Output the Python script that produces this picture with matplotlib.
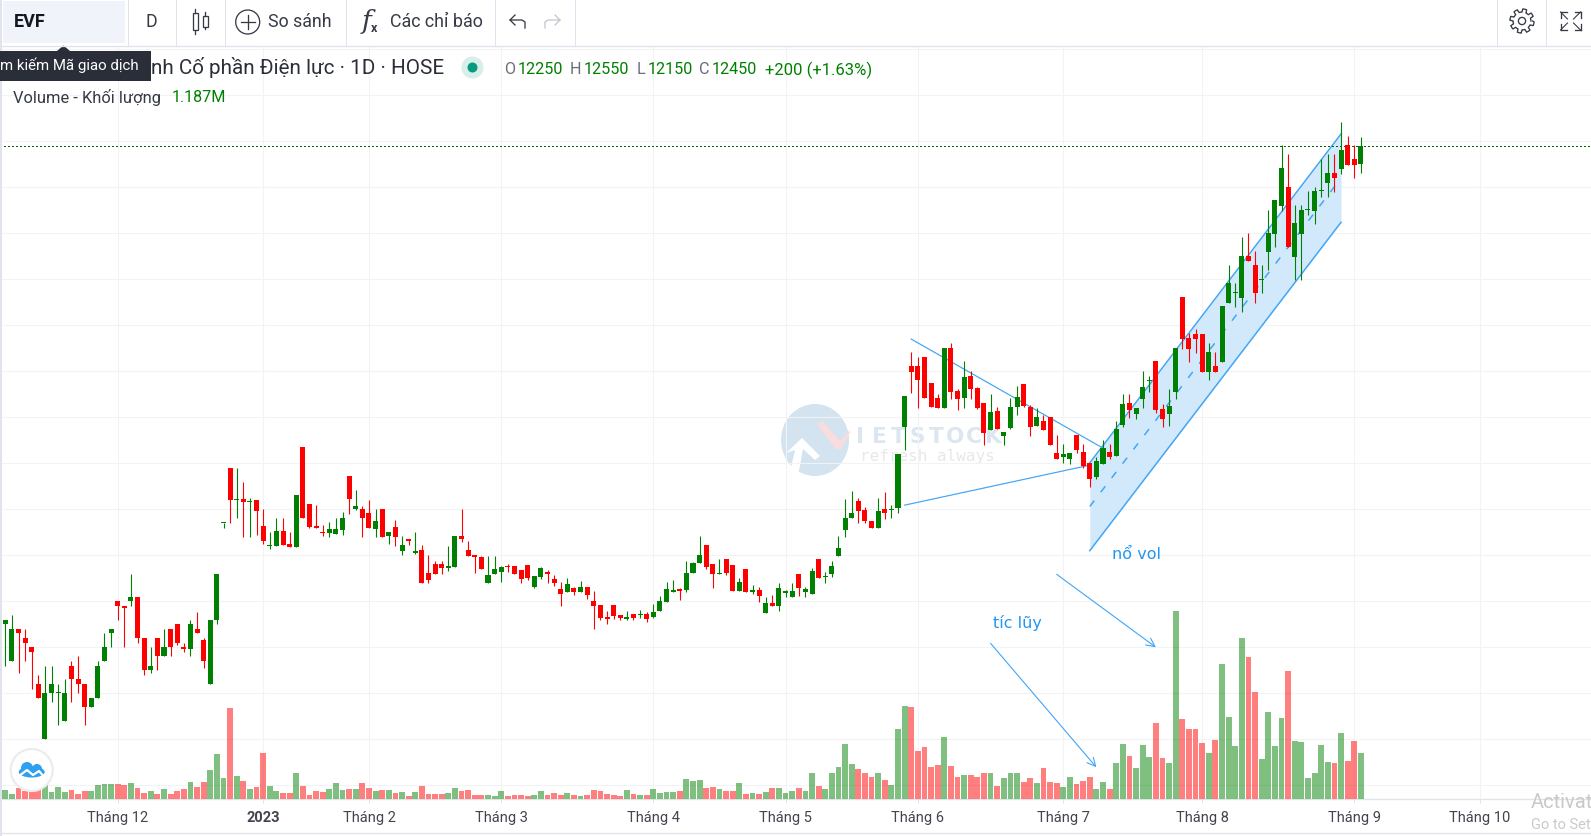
import numpy as np
import matplotlib

matplotlib.use("Agg")
import matplotlib.pyplot as plt
from matplotlib.patches import Circle, Ellipse, Polygon, Rectangle

plt.rcParams["font.family"] = ["Roboto", "DejaVu Sans"]

# Daily prices, bar 0 is mid November 2022
open_p = [
    7250, 6850, 7200, 7100, 7000, 6600, 6000, 6500, 6500, 6200,
    6800, 6650, 6600, 6350, 6450, 6850, 7150, 7500, 7450, 7500,
    7550, 7100, 6750, 7100, 6900, 7200, 7250, 7000, 6980, 7200,
    7080, 6600, 7300, 8350, 8950, 8600, 8610, 8580, 8600, 8320,
    8100, 8100, 8260, 8120, 8090, 9180, 8560, 8320, 8250, 8240,
    8230, 8280, 8860, 8500, 8500, 8460, 8290, 8500, 8210, 8310,
    8050, 8180, 8030, 8060, 7810, 7900, 7910, 7860, 7870, 8210,
    8060, 8000, 7980, 7700, 7800, 7820, 7885, 7885, 7840, 7895,
    7655, 7765, 7820, 7745, 7635, 7600, 7640, 7600, 7655, 7505,
    7460, 7330, 7460, 7350, 7310, 7365, 7355, 7365, 7330, 7395,
    7495, 7600, 7635, 7625, 7810, 7915, 8110, 7905, 7800, 7960,
    7895, 7610, 7850, 7600, 7625, 7375, 7480, 7450, 7590, 7545,
    7800, 7600, 7580, 7960, 7760, 7800, 7990, 8275, 8405, 8590,
    8495, 8375, 8300, 8505, 8495, 8515, 9395, 10060, 10060, 10155,
    9875, 9710, 9600, 10255, 9785, 9710, 9950, 9820, 9655, 9360,
    9570, 9295, 9385, 9610, 9860, 9610, 9405, 9460, 9505, 9110,
    9070, 9045, 9310, 9125, 9005, 8850, 8990, 9125, 9080, 9415,
    9655, 9535, 9700, 9890, 10110, 9590, 9535, 9775, 10810, 10360,
    10410, 10410, 9995, 10060, 10100, 10745, 10850, 10800, 11255, 11155,
    10995, 11295, 11495, 11800, 12005, 11245, 11495, 11750, 11745, 11955,
    12045, 12155, 12200, 12460, 12310, 12250,
]
high_p = [
    7300, 7350, 7200, 7200, 7000, 6700, 6800, 6800, 6600, 6650,
    6850, 6900, 6600, 6450, 6850, 7150, 7200, 7500, 7450, 7800,
    7550, 7100, 7000, 7100, 7200, 7200, 7250, 7050, 7300, 7380,
    7100, 7300, 7800, 8350, 8950, 8950, 8800, 8620, 8600, 8500,
    8250, 8400, 8400, 8250, 8650, 9180, 8560, 8550, 8330, 8360,
    8400, 8470, 8860, 8710, 8540, 8600, 8500, 8500, 8250, 8380,
    8210, 8180, 8250, 8110, 8000, 7940, 7940, 8100, 8210, 8500,
    8155, 8000, 7990, 7990, 7990, 7880, 7905, 7885, 7840, 7895,
    7775, 7875, 7840, 7785, 7710, 7755, 7655, 7720, 7655, 7610,
    7460, 7395, 7460, 7350, 7395, 7365, 7405, 7385, 7470, 7560,
    7710, 7730, 7645, 7940, 7925, 8210, 8110, 7905, 7960, 7960,
    7895, 7755, 7850, 7680, 7655, 7545, 7570, 7700, 7625, 7700,
    7800, 7655, 7860, 7960, 7820, 7940, 8210, 8610, 8700, 8620,
    8525, 8375, 8620, 8690, 8545, 9100, 9730, 10210, 10155, 10155,
    9875, 9755, 10255, 10310, 9810, 10110, 10005, 9830, 9655, 9755,
    9610, 9340, 9710, 9840, 9860, 9635, 9600, 9525, 9505, 9310,
    9210, 9110, 9310, 9210, 9005, 9070, 9255, 9210, 9460, 9755,
    9755, 9600, 10005, 9950, 10110, 9645, 9810, 10255, 10810, 10415,
    10460, 10410, 10310, 10210, 10710, 11155, 10960, 11460, 11505, 11310,
    11155, 11755, 11860, 12460, 12360, 11810, 11810, 11960, 12005, 12310,
    12360, 12360, 12710, 12560, 12460, 12550,
]
low_p = [
    6800, 6850, 6725, 6850, 6550, 6450, 6000, 6400, 6150, 6200,
    6400, 6500, 6150, 6350, 6450, 6850, 7000, 7300, 7000, 7450,
    7050, 6700, 6720, 6750, 6900, 6900, 7020, 6950, 6900, 7150,
    6770, 6600, 7250, 8300, 8350, 8400, 8200, 8200, 8220, 8120,
    8070, 8100, 8110, 8090, 8090, 8400, 8300, 8300, 8210, 8200,
    8230, 8220, 8450, 8490, 8200, 8300, 8200, 8200, 8120, 8100,
    8000, 8110, 8010, 7700, 7700, 7800, 7800, 7830, 7870, 8145,
    7990, 7810, 7850, 7700, 7800, 7710, 7820, 7800, 7700, 7730,
    7645, 7740, 7700, 7665, 7450, 7600, 7570, 7600, 7525, 7200,
    7300, 7255, 7310, 7300, 7300, 7300, 7320, 7275, 7320, 7395,
    7495, 7600, 7515, 7600, 7810, 7915, 7850, 7645, 7800, 7790,
    7610, 7610, 7600, 7580, 7495, 7375, 7450, 7395, 7545, 7545,
    7560, 7545, 7580, 7755, 7700, 7765, 7990, 8200, 8405, 8350,
    8350, 8300, 8300, 8395, 8405, 8460, 9145, 9765, 9600, 9710,
    9610, 9600, 9600, 9700, 9580, 9600, 9700, 9590, 9200, 9360,
    9375, 9200, 9375, 9525, 9610, 9295, 9405, 9360, 9200, 9045,
    9005, 8990, 9110, 8950, 8745, 8830, 8990, 9045, 9080, 9395,
    9495, 9480, 9600, 9775, 9545, 9395, 9405, 9700, 10240, 10100,
    10200, 9995, 9905, 9995, 10100, 10745, 10700, 10645, 11200, 10745,
    10850, 11100, 11350, 11745, 11350, 10995, 10995, 11700, 11600, 11895,
    11895, 11950, 12145, 12245, 12100, 12150,
]
close_p = [
    7300, 7200, 7150, 7050, 6950, 6450, 6500, 6600, 6500, 6500,
    6650, 6600, 6350, 6450, 6800, 7000, 7200, 7450, 7430, 7550,
    7100, 6750, 6800, 6900, 7000, 7000, 7050, 6980, 7250, 7150,
    6850, 7300, 7800, 8350, 8600, 8610, 8580, 8590, 8480, 8150,
    8110, 8260, 8110, 8090, 8650, 8400, 8310, 8300, 8240, 8290,
    8290, 8400, 8610, 8540, 8400, 8300, 8370, 8200, 8250, 8200,
    8110, 8160, 8050, 7700, 7730, 7800, 7860, 7880, 8210, 8180,
    7990, 7980, 7850, 7790, 7850, 7870, 7875, 7800, 7740, 7755,
    7775, 7860, 7800, 7700, 7580, 7690, 7600, 7655, 7570, 7450,
    7320, 7310, 7340, 7320, 7330, 7320, 7360, 7310, 7385, 7505,
    7635, 7625, 7610, 7810, 7915, 8005, 7875, 7800, 7805, 7810,
    7610, 7710, 7600, 7625, 7560, 7480, 7450, 7645, 7610, 7610,
    7645, 7635, 7830, 7755, 7775, 7885, 8080, 8405, 8460, 8480,
    8375, 8300, 8480, 8460, 8505, 9100, 9730, 9990, 9905, 9710,
    9610, 9600, 10255, 9775, 9700, 9940, 9810, 9600, 9330, 9560,
    9375, 9340, 9610, 9720, 9625, 9395, 9505, 9360, 9200, 9045,
    9100, 9110, 9145, 8970, 8830, 9025, 9165, 9070, 9375, 9645,
    9580, 9600, 9830, 9900, 9580, 9480, 9625, 10255, 10350, 10240,
    10350, 9995, 10210, 9995, 10710, 10960, 10860, 11255, 11200, 10850,
    11005, 11505, 11860, 12210, 11350, 11610, 11755, 11760, 11960, 11965,
    12155, 12100, 12405, 12245, 12245, 12450,
]
# Volume in thousands
volume_k = [
    232, 129, 284, 206, 232, 232, 404, 181, 310, 181,
    232, 129, 206, 206, 361, 387, 387, 387, 361, 413,
    284, 155, 206, 129, 258, 129, 206, 258, 439, 310,
    439, 748, 1161, 542, 2348, 593, 464, 258, 310, 1187,
    335, 206, 155, 155, 671, 335, 103, 206, 181, 258,
    413, 232, 258, 258, 413, 284, 206, 232, 232, 155,
    181, 77, 181, 335, 129, 129, 138, 163, 292, 215,
    241, 112, 112, 112, 86, 215, 86, 112, 112, 86,
    112, 215, 112, 163, 112, 163, 112, 86, 112, 241,
    215, 138, 112, 86, 241, 138, 112, 112, 267, 163,
    189, 189, 215, 525, 473, 499, 292, 318, 267, 215,
    215, 421, 138, 163, 138, 189, 292, 292, 163, 215,
    292, 215, 679, 344, 267, 679, 834, 1428, 912, 783,
    679, 576, 679, 499, 370, 1806, 2399, 2374, 1238, 1342,
    826, 877, 1600, 851, 568, 619, 619, 568, 671, 671,
    335, 542, 671, 671, 439, 542, 413, 800, 439, 413,
    310, 568, 387, 464, 568, 258, 439, 258, 929, 1419,
    1109, 800, 1393, 1084, 1961, 1058, 929, 4850, 2064, 1806,
    1806, 1445, 1187, 1522, 3483, 2116, 1367, 4154, 3664, 2761,
    1032, 2245, 1367, 2090, 3302, 1496, 1471, 542, 671, 1393,
    955, 929, 1703, 980, 1496, 1187,
]

month_bars = [17, 39, 55, 75, 98, 118, 138, 160, 181, 204, 223]
month_labels = ["Tháng 12", "2023", "Tháng 2", "Tháng 3", "Tháng 4", "Tháng 5",
                "Tháng 6", "Tháng 7", "Tháng 8", "Tháng 9", "Tháng 10"]

# Hand drawn lines on the chart: (bar, price)
wedge_upper_bars = [137, 166]
wedge_upper_prices = [10350, 9165]
wedge_lower_bars = [136, 164]
wedge_lower_prices = [8545, 8980]
channel_bars = [164, 202]
channel_top = [9005, 12580]
channel_mid = [8530, 12100]
channel_bottom = [8050, 11620]

RED = "#ff0000"
GREEN = "#008000"
BLUE = "#2196f3"
LINE = "#e0e3eb"
GRID = "#f2f3f5"
DARK = "#363a45"
W, H = 1591, 836
PX = 72 / 100  # points per pixel

fig = plt.figure(figsize=(W / 100, H / 100), dpi=100, facecolor="white")

# %% Watermark behind the chart, pixel coordinates
bg = fig.add_axes([0, 0, 1, 1], zorder=0)
bg.set_xlim(0, W)
bg.set_ylim(H, 0)
bg.axis("off")
bg.add_patch(Ellipse((815, 440), 68, 72, color="#d3e3f0", lw=0))
bg.add_patch(Polygon([[786, 453], [802, 438], [820, 456], [815, 460], [803, 449], [798, 476], [790, 472], [795, 450]],
                     color="white", lw=0))
bg.add_patch(Polygon([[817, 424], [822, 421], [840, 441], [853, 427], [841, 449], [836, 449]], color="#fbdcdc", lw=0))
bg.add_patch(Polygon([[836, 411], [850, 426], [851, 450], [845, 468], [858, 468], [858, 411]], color="white", lw=0))
for pos, letter in enumerate("IETSTOCK"):
    bg.text(860 + pos * 19, 437, letter, color="#dbe6f1", fontsize=15.5, fontweight="bold",
            family="DejaVu Sans", ha="center", va="center")
bg.text(860, 456, "refresh always", color="#e8e8ea", fontsize=11.5, ha="left", va="center",
        family="DejaVu Sans Mono")

# %% Price pane
ax = fig.add_axes([0, (H - 799) / H, 1, 752 / H], zorder=1, facecolor="none")
ax.set_xlim(-0.8, 239.8)
ax.set_ylim(5351, 13525)
ax.set_yticks(np.arange(5500, 13501, 500))
ax.set_xticks(month_bars)
ax.set_xticklabels(month_labels, fontsize=10.5, color="#42454f")
ax.get_xticklabels()[1].set_fontweight("bold")
ax.tick_params(axis="y", length=0, labelleft=False)
ax.tick_params(axis="x", length=4 * PX, width=PX, color=LINE, pad=5.5)
ax.grid(True, color=GRID, lw=1.1 * PX)
ax.set_axisbelow(True)
for name in ["top", "left", "right"]:
    ax.spines[name].set_visible(False)
ax.spines["bottom"].set_color(LINE)
ax.spines["bottom"].set_linewidth(1.3 * PX)

bars = np.arange(len(close_p))
opens = np.array(open_p)
closes = np.array(close_p)
colors = np.where(closes >= opens, GREEN, RED)

# Drawings go under the candles
ax.fill_between(channel_bars, channel_bottom, channel_top, color="#d2e9fc", lw=0, zorder=1)
for prices in [channel_top, channel_bottom]:
    ax.plot(channel_bars, prices, color="#42a5f5", lw=1.5 * PX, zorder=1.5)
ax.plot(channel_bars, channel_mid, color="#42a5f5", lw=1.5 * PX, dashes=(5, 7), zorder=1.5)
ax.plot(wedge_upper_bars, wedge_upper_prices, color="#42a5f5", lw=1.2 * PX, zorder=1.5)
ax.plot(wedge_lower_bars, wedge_lower_prices, color="#42a5f5", lw=1.2 * PX, zorder=1.5)

ax.axhline(close_p[-1], color="#006400", lw=PX, dashes=(1.4, 2.8), antialiased=False, zorder=1.6)

ax.vlines(bars, low_p, high_p, colors=colors, lw=1.1 * PX, zorder=2)
body_bottom = np.minimum(opens, closes)
body_height = np.maximum(np.abs(closes - opens), 12)
ax.bar(bars, body_height, 0.76, bottom=body_bottom, color=colors, lw=0, zorder=3)

for start, end in [((159, 7793), (174, 7000)), ((149, 7043), (165, 5696))]:
    ax.annotate("", xy=end, xytext=start,
                arrowprops=dict(arrowstyle="->,head_length=0.6,head_width=0.3", color="#42a5f5", lw=0.8,
                                shrinkA=0, shrinkB=0), zorder=4)
ax.text(167.3, 8010, "nổ vol", color=BLUE, fontsize=11.5, family="DejaVu Sans", ha="left", va="center")
ax.text(149.3, 7262, "tíc lũy", color=BLUE, fontsize=11.5, family="DejaVu Sans", ha="left", va="center")

# %% Volume pane shares the x axis
ax_vol = ax.twinx()
ax_vol.set_ylim(0, 19400)
ax_vol.axis("off")
ax_vol.bar(bars, volume_k, 0.88, color=colors, alpha=0.5, lw=0)

# %% Toolbar and legend, pixel coordinates
ui = fig.add_axes([0, 0, 1, 1], zorder=5, facecolor="none")
ui.set_xlim(0, W)
ui.set_ylim(H, 0)
ui.axis("off")

ui.plot([0, W], [46, 46], color=LINE, lw=1.3 * PX)
ui.plot([0, W], [833, 833], color=LINE, lw=1.3 * PX)
ui.add_patch(Rectangle((0, 0), 1.6, H, color=LINE, lw=0))
for x in [127.5, 175.5, 224.5, 345.5, 495, 574.6, 1497, 1546]:
    ui.plot([x, x], [0, 46], color=LINE, lw=PX)
ui.add_patch(Rectangle((3, 1), 122, 42, color="#f0f3fa", lw=0))
ui.text(14, 22, "EVF", fontsize=13, fontweight="bold", color="#131722", ha="left", va="center")
ui.text(151, 22, "D", fontsize=12.8, color=DARK, ha="center", va="center")

# Candle icon
for x, y0, y1, y2, y3 in [(195, 9, 13, 30, 34), (205.3, 12, 16, 27, 29)]:
    ui.plot([x, x], [y0, y1], color=DARK, lw=1.3 * PX)
    ui.plot([x, x], [y2, y3], color=DARK, lw=1.3 * PX)
    ui.add_patch(Rectangle((x - 2.5, y1), 5, y2 - y1, fc="none", ec=DARK, lw=1.3 * PX))

# Compare icon
ui.add_patch(Circle((247.7, 22), 12, fc="none", ec=DARK, lw=1.3 * PX))
ui.plot([240.7, 254.7], [22, 22], color=DARK, lw=1.3 * PX)
ui.plot([247.7, 247.7], [15, 29], color=DARK, lw=1.3 * PX)
ui.text(268.5, 22, "So sánh", fontsize=12.8, color=DARK, ha="left", va="center")

ui.text(366, 21, "f", fontsize=19, color=DARK, family="DejaVu Serif", style="italic", ha="center", va="center")
ui.text(374, 29, "x", fontsize=9, color=DARK, fontweight="bold", ha="center", va="center")
ui.text(390.5, 22, "Các chỉ báo", fontsize=12.9, color=DARK, ha="left", va="center")

# Undo and redo arrows
ui.plot([525, 525, 522, 510, 515], [28, 22, 20, 20, 15], color=DARK, lw=1.3 * PX)
ui.plot([510, 515], [20, 25], color=DARK, lw=1.3 * PX)
ui.plot([545, 545, 548, 560, 555], [28, 22, 20, 20, 15], color="#c4c6cc", lw=1.3 * PX)
ui.plot([560, 555], [20, 25], color="#c4c6cc", lw=1.3 * PX)

# Gear icon
angles = np.linspace(0, 2 * np.pi, 97)
gear_r = 10.5 + 1.6 * np.sign(np.sin(angles * 8))
ui.plot(1522 + gear_r * np.cos(angles), 21 + gear_r * np.sin(angles), color=DARK, lw=1.3 * PX)
ui.add_patch(Circle((1522, 21), 3.6, fc="none", ec=DARK, lw=1.3 * PX))

# Fullscreen icon
for sx, sy in [(-1, -1), (1, -1), (-1, 1), (1, 1)]:
    cx, cy = 1570.5 + sx * 10, 21 + sy * 9
    ui.plot([cx, cx - sx * 6], [cy, cy], color=DARK, lw=1.3 * PX)
    ui.plot([cx, cx], [cy, cy - sy * 6], color=DARK, lw=1.3 * PX)
    ui.plot([cx, cx - sx * 7], [cy, cy - sy * 7], color=DARK, lw=1.1 * PX)

# Tooltip over the legend title
ui.text(151, 67.5, "nh Cố phần Điện lực · 1D · HOSE", fontsize=14.9, color="#2a2e39", ha="left", va="center")
ui.add_patch(Polygon([[57, 51], [63.5, 45.5], [70, 51]], color="#2a2e39", lw=0))
ui.add_patch(Rectangle((0, 51), 151, 30, color="#2a2e39", lw=0))
ui.text(0, 65.5, "m kiếm Mã giao dịch", fontsize=10.8, color="white", ha="left", va="center")

ui.add_patch(Circle((472.5, 67.5), 11, color="#d7eeeb", lw=0))
ui.add_patch(Circle((472.5, 67.5), 5, color="#089981", lw=0))

legend_labels = ["O", "H", "L", "C"]
label_x = [504, 570, 637, 699]
value_x = [518, 584, 648, 712]
legend_values = ["12250", "12550", "12150", "12450"]
for label, lx, vx, value in zip(legend_labels, label_x, value_x, legend_values):
    ui.text(lx, 70, label, fontsize=11.6, color="#6a6d78", ha="left", va="center")
    ui.text(vx, 70, value, fontsize=11.6, color=GREEN, ha="left", va="center")
ui.text(765, 70, "+200 (+1.63%)", fontsize=12, color=GREEN, ha="left", va="center")

ui.text(13, 97.5, "Volume - Khối lượng", fontsize=11.9, color="#363a45", ha="left", va="center")
ui.text(172, 97.5, "1.187M", fontsize=11.6, color=GREEN, ha="left", va="center")

# Logo badge
ui.add_patch(Circle((31.7, 770), 21, fc="white", ec="#ececec", lw=1.6))
ui.add_patch(Ellipse((31.7, 772), 26, 11, color="#2f9ff2", lw=0))
ui.add_patch(Circle((27, 768), 6, color="#2f9ff2", lw=0))
ui.add_patch(Circle((37, 769), 5, color="#2f9ff2", lw=0))
ui.plot([19, 27, 33, 39, 45], [776, 770, 775, 771, 778], color="white", lw=1.6)

# Windows activation text left on the screenshot
ui.text(1531, 803, "Activat", fontsize=14.5, color="#c9c9c9", ha="left", va="center")
ui.text(1531, 825, "Go to Set", fontsize=10.5, color="#c9c9c9", ha="left", va="center")

fig.savefig("out.png", dpi=100)
